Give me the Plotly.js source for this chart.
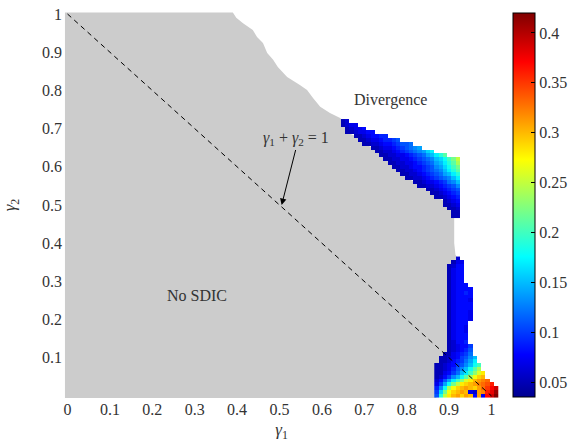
<!DOCTYPE html>
<html>
<head>
<meta charset="utf-8">
<script src="https://cdn.plot.ly/plotly-3.0.1.min.js"></script>
<style>html,body{margin:0;padding:0;background:#fff;}#chart{width:569px;height:442px;}</style>
</head>
<body>
<div id="chart"></div>
<script>
// ---- Data (grid step 0.01) ----
// Upper coloured region: columns, rows, first column of each row, values along each row
const xUp = [0.65,0.66,0.67,0.68,0.69,0.70,0.71,0.72,0.73,0.74,0.75,0.76,0.77,0.78,0.79,0.80,0.81,0.82,0.83,0.84,0.85,0.86,0.87,0.88,0.89,0.90,0.91,0.92];
const yUp = [0.72,0.71,0.70,0.69,0.68,0.67,0.66,0.65,0.64,0.63,0.62,0.61,0.60,0.59,0.58,0.57,0.56,0.55,0.54,0.53,0.52,0.51,0.50,0.49,0.48,0.47];
const upStart = [0.65,0.65,0.66,0.66,0.68,0.69,0.70,0.72,0.73,0.74,0.75,0.76,0.77,0.78,0.79,0.80,0.82,0.83,0.85,0.86,0.87,0.89,0.89,0.90,0.91,0.91];
const upVals = [
  [0.05,0.06],
  [0.05,0.06,0.07,0.07],
  [0.05,0.06,0.07,0.07,0.08],
  [0.05,0.05,0.06,0.07,0.07,0.08,0.08],
  [0.05,0.05,0.06,0.07,0.08,0.08,0.09,0.09],
  [0.05,0.05,0.06,0.07,0.07,0.08,0.09,0.09,0.10,0.11],
  [0.05,0.05,0.06,0.06,0.07,0.08,0.08,0.09,0.10,0.11,0.11,0.12],
  [0.05,0.05,0.06,0.07,0.07,0.08,0.09,0.10,0.11,0.12,0.13,0.14],
  [0.05,0.05,0.06,0.06,0.07,0.08,0.09,0.10,0.11,0.12,0.13,0.14,0.16,0.17],
  [0.05,0.05,0.06,0.06,0.07,0.07,0.08,0.09,0.10,0.11,0.12,0.14,0.15,0.17,0.19,0.21],
  [0.05,0.05,0.06,0.06,0.07,0.07,0.08,0.09,0.10,0.11,0.12,0.13,0.15,0.16,0.18,0.20,0.22,0.25],
  [0.05,0.05,0.06,0.06,0.07,0.07,0.08,0.09,0.10,0.11,0.12,0.14,0.15,0.17,0.19,0.21,0.24],
  [0.05,0.05,0.06,0.06,0.07,0.08,0.08,0.09,0.10,0.11,0.13,0.14,0.16,0.18,0.20,0.22],
  [0.05,0.05,0.06,0.06,0.07,0.08,0.09,0.10,0.11,0.12,0.13,0.15,0.17,0.19,0.21],
  [0.05,0.05,0.06,0.06,0.07,0.08,0.09,0.10,0.11,0.12,0.14,0.15,0.17,0.19],
  [0.05,0.05,0.06,0.06,0.07,0.08,0.09,0.10,0.11,0.12,0.13,0.15,0.17],
  [0.05,0.05,0.06,0.07,0.07,0.08,0.09,0.10,0.12,0.13,0.15],
  [0.05,0.05,0.06,0.06,0.07,0.08,0.09,0.10,0.11,0.13],
  [0.05,0.05,0.06,0.07,0.08,0.09,0.10,0.11],
  [0.05,0.05,0.06,0.07,0.08,0.09,0.10],
  [0.05,0.05,0.06,0.07,0.08,0.09],
  [0.05,0.06,0.07,0.08],
  [0.05,0.05,0.06,0.07],
  [0.05,0.05,0.06],
  [0.05,0.05],
  [0.05,0.05]
];
// Lower coloured region
const xLow = [0.87,0.88,0.89,0.90,0.91,0.92,0.93,0.94,0.95,0.96,0.97,0.98,0.99,1.00,1.01];
const yLow = [0.36,0.35,0.34,0.33,0.32,0.31,0.30,0.29,0.28,0.27,0.26,0.25,0.24,0.23,0.22,0.21,0.20,0.19,0.18,0.17,0.16,0.15,0.14,0.13,0.12,0.11,0.10,0.09,0.08,0.07,0.06,0.05,0.04,0.03,0.02,0.01,0.00];
const lowStart = [0.92,0.91,0.90,0.90,0.90,0.90,0.90,0.90,0.90,0.90,0.90,0.90,0.90,0.90,0.90,0.90,0.90,0.90,0.90,0.90,0.90,0.90,0.90,0.90,0.90,0.89,0.88,0.88,0.87,0.87,0.87,0.87,0.87,0.87,0.87,0.87,0.87];
const lowVals = [
  [0.06],
  [0.05,0.07,0.07],
  [0.05,0.06,0.08,0.08],
  [0.05,0.07,0.08,0.08],
  [0.05,0.07,0.08,0.08],
  [0.05,0.07,0.08,0.08],
  [0.05,0.07,0.08,0.08],
  [0.05,0.07,0.08,0.08,0.08],
  [0.05,0.07,0.08,0.08,0.08,0.08],
  [0.05,0.07,0.08,0.08,0.09,0.08],
  [0.05,0.07,0.08,0.08,0.08,0.08],
  [0.05,0.07,0.08,0.08,0.08,0.07],
  [0.05,0.07,0.08,0.08,0.08,0.08],
  [0.05,0.07,0.08,0.08,0.08,0.08],
  [0.05,0.07,0.08,0.08,0.08,0.07],
  [0.05,0.07,0.08,0.08,0.08,0.07],
  [0.05,0.07,0.08,0.08,0.08,0.07],
  [0.05,0.07,0.08,0.08,0.08],
  [0.05,0.07,0.08,0.08,0.07],
  [0.05,0.07,0.08,0.08,0.07],
  [0.05,0.07,0.08,0.08,0.08],
  [0.05,0.07,0.08,0.08,0.08],
  [0.05,0.06,0.08,0.08,0.09],
  [0.05,0.06,0.07,0.08,0.08,0.10],
  [0.05,0.06,0.07,0.08,0.09,0.11],
  [0.05,0.05,0.07,0.08,0.09,0.10,0.12],
  [0.05,0.05,0.06,0.07,0.08,0.10,0.11,0.13,0.15],
  [0.05,0.05,0.06,0.08,0.09,0.10,0.12,0.14,0.17],
  [0.05,0.05,0.06,0.07,0.08,0.10,0.11,0.13,0.15,0.18,0.20],
  [0.05,0.05,0.06,0.07,0.09,0.11,0.13,0.15,0.18,0.21,0.24],
  [0.05,0.05,0.07,0.08,0.10,0.12,0.15,0.17,0.20,0.23,0.26,0.28],
  [0.05,0.06,0.08,0.10,0.13,0.15,0.18,0.21,0.24,0.27,0.29,0.30],
  [0.06,0.08,0.11,0.14,0.17,0.20,0.23,0.26,0.28,0.30,0.31,0.32,0.33],
  [0.07,0.10,0.14,0.18,0.22,0.25,0.28,0.29,0.30,0.31,0.32,0.33,0.34,0.36],
  [0.09,0.13,0.18,0.24,0.27,0.29,0.30,0.31,0.30,0.29,0.31,0.33,0.35,0.37,0.39],
  [0.10,0.16,0.22,0.27,0.29,0.30,0.31,0.30,0.07,0.06,0.31,0.32,0.36,0.38,0.41],
  [0.11,0.19,0.25,0.28,0.30,0.31,0.29,0.31,0.30,0.08,0.31,0.07,0.37,0.39,0.42]
];
// "No SDIC" grey region boundary
const grayX = [-0.006,-0.006,0.390,0.398,0.414,0.437,0.447,0.461,0.471,0.485,0.496,0.518,0.548,0.565,0.579,0.596,0.619,0.643,
  0.65,0.65,0.66,0.66,0.68,0.69,0.70,0.72,0.73,0.74,0.75,0.76,0.77,0.78,0.79,0.80,0.82,0.83,0.85,0.86,0.87,0.89,0.89,0.90,0.91,0.91,
  0.912,0.912,0.915,0.92,0.91,0.90,0.90,0.89,0.88,0.88,0.87,0.87];
const grayY = [-0.006,1.004,1.004,0.99,0.976,0.958,0.940,0.924,0.898,0.880,0.861,0.835,0.814,0.801,0.780,0.757,0.741,0.728,
  0.72,0.71,0.70,0.69,0.68,0.67,0.66,0.65,0.64,0.63,0.62,0.61,0.60,0.59,0.58,0.57,0.56,0.55,0.54,0.53,0.52,0.51,0.50,0.49,0.48,0.47,
  0.465,0.40,0.37,0.36,0.35,0.34,0.12,0.11,0.10,0.09,0.08,-0.006];
// Reference line gamma1 + gamma2 = 1
const lineX = [0, 1];
const lineY = [1, 0];
// Ticks
const xTicks = [0,0.1,0.2,0.3,0.4,0.5,0.6,0.7,0.8,0.9,1];
const xLabels = ['0','0.1','0.2','0.3','0.4','0.5','0.6','0.7','0.8','0.9','1'];
const yTicks = [0.1,0.2,0.3,0.4,0.5,0.6,0.7,0.8,0.9,1];
const yLabels = ['0.1','0.2','0.3','0.4','0.5','0.6','0.7','0.8','0.9','1'];
const cbTicks = [0.05,0.1,0.15,0.2,0.25,0.3,0.35,0.4];
const cbLabels = ['0.05','0.1','0.15','0.2','0.25','0.3','0.35','0.4'];
const cRange = [0.035, 0.42];

// ---- Build the z tables the heatmap needs from the row lists ----
function buildZ(xs, starts, vals) {
  return vals.map((row, r) => {
    const out = xs.map(() => null);
    const i0 = xs.findIndex(v => Math.abs(v - starts[r]) < 1e-6);
    row.forEach((v, k) => { out[i0 + k] = v; });
    return out;
  });
}
const zUp = buildZ(xUp, upStart, upVals);
const zLow = buildZ(xLow, lowStart, lowVals);

// ---- Styling ----
const FONT = 'Liberation Serif, Times New Roman, serif';
const TXT = '#333';
const jet = [[0,'rgb(0,0,143)'],[0.11,'rgb(0,0,255)'],[0.365,'rgb(0,255,255)'],[0.619,'rgb(255,255,0)'],[0.873,'rgb(255,0,0)'],[1,'rgb(128,0,0)']];

let grayPath = '';
for (let i = 0; i < grayX.length; i++) grayPath += (i ? ' L ' : 'M ') + grayX[i] + ',' + grayY[i];
grayPath += ' Z';

const traces = [
  {type:'heatmap', x:xUp, y:yUp, z:zUp, coloraxis:'coloraxis', hoverinfo:'skip'},
  {type:'heatmap', x:xLow, y:yLow, z:zLow, coloraxis:'coloraxis', hoverinfo:'skip'}
];

const layout = {
  width:569, height:442,
  margin:{l:63, r:69, t:12, b:44, autoexpand:false},
  paper_bgcolor:'#fff', plot_bgcolor:'#fff',
  showlegend:false,
  font:{family:FONT, size:16, color:TXT},
  xaxis:{range:[-0.0106,1.020], tickvals:xTicks, ticktext:xLabels, showgrid:false, zeroline:false,
         showline:false, ticks:'', tickfont:{family:FONT,size:16,color:TXT},
         title:{text:'<i>γ</i><sub>1</sub>', font:{family:FONT,size:17,color:TXT}, standoff:8}},
  yaxis:{range:[-0.0052,1.0052], tickvals:yTicks, ticktext:yLabels, showgrid:false, zeroline:false,
         showline:false, ticks:'', tickfont:{family:FONT,size:16,color:TXT},
         title:{text:'<i>γ</i><sub>2</sub>', font:{family:FONT,size:17,color:TXT}, standoff:22}},
  coloraxis:{cmin:cRange[0], cmax:cRange[1], colorscale:jet,
    colorbar:{x:1.0297, xanchor:'left', thickness:22, thicknessmode:'pixels',
      len:384, lenmode:'pixels', y:0.5, yanchor:'middle', xpad:0, ypad:0,
      outlinewidth:1, outlinecolor:'#000', ticks:'inside', ticklen:4, tickcolor:'#000',
      tickvals:cbTicks, ticktext:cbLabels, tickfont:{family:FONT,size:16,color:TXT}}},
  shapes:[
    {type:'path', xref:'x', yref:'y', path:grayPath, fillcolor:'#cccccc', line:{width:0}, layer:'below'},
    {type:'line', xref:'x', yref:'y', x0:lineX[0], y0:lineY[0], x1:lineX[1], y1:lineY[1],
           line:{color:'#000', width:1, dash:'5px,4px'}, layer:'above'}],
  annotations:[
    {x:0.761, y:0.775, xref:'x', yref:'y', text:'Divergence', showarrow:false, font:{family:FONT,size:16,color:TXT}},
    {x:0.306, y:0.262, xref:'x', yref:'y', text:'No SDIC', showarrow:false, font:{family:FONT,size:16,color:TXT}},
    {x:0.505, y:0.50, xref:'x', yref:'y', ax:14, ay:-55, text:'<i>γ</i><sub>1</sub> + <i>γ</i><sub>2</sub> = 1',
     showarrow:true, arrowhead:2, arrowsize:1.3, arrowwidth:1, arrowcolor:'#000',
     xanchor:'center', yanchor:'bottom', font:{family:FONT,size:16,color:TXT}}
  ]
};

Plotly.newPlot('chart', traces, layout, {staticPlot:true, displayModeBar:false});
</script>
</body>
</html>
